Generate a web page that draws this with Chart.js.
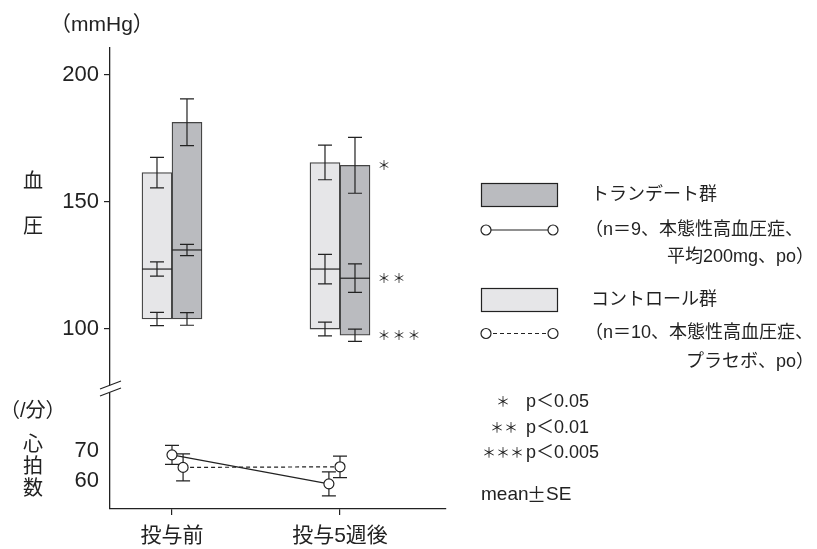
<!DOCTYPE html>
<html lang="ja">
<head>
<meta charset="utf-8">
<title>血圧・心拍数</title>
<script src="https://cdn.jsdelivr.net/npm/chart.js@4.4.1/dist/chart.umd.min.js"></script>
<style>
  html, body { margin: 0; padding: 0; background: #fff; }
  #wrap { width: 817px; height: 549px; }
</style>
</head>
<body>
<div id="wrap"><canvas id="grafico"></canvas></div>
<script>
// カテゴリ (x軸)
const categorias = ['投与前', '投与5週後'];

// 血圧 (mmHg) コントロール群: 収縮期 / 平均 / 拡張期 と SE
const ctrlSys = [161.5, 165.5];
const ctrlSysSE = [6.0, 6.8];
const ctrlMean = [123.6, 123.6];
const ctrlMeanSE = [2.8, 5.8];
const ctrlDia = [104, 100];
const ctrlDiaSE = [2.6, 2.7];

// 血圧 (mmHg) トランデート群
const tranSys = [181.3, 164.4];
const tranSysSE = [9.2, 11.0];
const tranMean = [131.1, 120.0];
const tranMeanSE = [2.2, 5.6];
const tranDia = [104, 97.6];
const tranDiaSE = [2.5, 2.4];

// 有意差マーク (トランデート群の * の数)
const sigSys = [0, 1];
const sigMean = [0, 2];
const sigDia = [0, 3];

// 心拍数 (/分)
const tranHR = [68.8, 59.1];
const tranHRSE = [3.2, 4.0];
const ctrlHR = [64.6, 64.8];
const ctrlHRSE = [4.5, 3.6];

// 目盛り
const bpTicks = [100, 150, 200];
const hrTicks = [60, 70];

// 見た目
const ink = '#222';
const darkFill = '#babbbf';
const lightFill = '#e6e6e8';
const fonte = "'Liberation Sans', 'Noto Sans CJK JP', sans-serif";
const hrShift = { tran: [0, -0.066], ctrl: [0.066, 0] }; // 丸が重ならないように少しずらす

// データセットごとの誤差などの情報
const extras = [
  { sys: ctrlSys, sysSE: ctrlSysSE, mean: ctrlMean, meanSE: ctrlMeanSE, dia: ctrlDia, diaSE: ctrlDiaSE },
  { sys: tranSys, sysSE: tranSysSE, mean: tranMean, meanSE: tranMeanSE, dia: tranDia, diaSE: tranDiaSE },
  { hrSE: tranHRSE },
  { hrSE: ctrlHRSE }
];

function errBar(ctx, x, yTop, yBot, cap) {
  ctx.beginPath();
  ctx.moveTo(x, yTop); ctx.lineTo(x, yBot);
  ctx.moveTo(x - cap, yTop); ctx.lineTo(x + cap, yTop);
  ctx.moveTo(x - cap, yBot); ctx.lineTo(x + cap, yBot);
  ctx.stroke();
}

function circle(ctx, x, y) {
  ctx.beginPath();
  ctx.arc(x, y, 5, 0, Math.PI * 2);
  ctx.fillStyle = '#fff';
  ctx.fill();
  ctx.stroke();
}

// 平均線・誤差棒
const extrasPlugin = {
  id: 'extras',
  afterDatasetDraw(chart, args) {
    const ex = extras[args.index];
    if (!ex.sys) return;
    const y = chart.scales.y, ctx = chart.ctx;
    ctx.save();
    ctx.strokeStyle = ink;
    ctx.lineWidth = 1.2;
    args.meta.data.forEach((bar, i) => {
      const half = bar.width / 2;
      const ym = y.getPixelForValue(ex.mean[i]);
      ctx.beginPath();
      ctx.moveTo(bar.x - half, ym); ctx.lineTo(bar.x + half, ym);
      ctx.stroke();
      [['sys', 'sysSE'], ['mean', 'meanSE'], ['dia', 'diaSE']].forEach(([k, s]) => {
        const v = ex[k][i], e = ex[s][i];
        errBar(ctx, bar.x, y.getPixelForValue(v + e), y.getPixelForValue(v - e), 7);
      });
    });
    ctx.restore();
  },
  beforeDatasetDraw(chart, args) {
    const ex = extras[args.index];
    if (!ex.hrSE) return;
    const y2 = chart.scales.y2, ctx = chart.ctx;
    const ds = chart.data.datasets[args.index];
    ctx.save();
    ctx.strokeStyle = ink;
    ctx.lineWidth = 1.2;
    args.meta.data.forEach((pt, i) => {
      const v = ds.data[i].y, e = ex.hrSE[i];
      errBar(ctx, pt.x, y2.getPixelForValue(v + e), y2.getPixelForValue(v - e), 7);
    });
    ctx.restore();
  }
};

// 文字・凡例・軸の切れ目
const textPlugin = {
  id: 'textos',
  afterDraw(chart) {
    const ctx = chart.ctx;
    const y = chart.scales.y;
    const x0 = chart.scales.y.right;
    ctx.save();
    ctx.fillStyle = ink;
    ctx.strokeStyle = ink;
    ctx.textBaseline = 'middle';

    // 軸の切れ目 //
    ctx.fillStyle = '#fff';
    ctx.beginPath();
    ctx.moveTo(x0 - 4, 387); ctx.lineTo(x0 + 4, 384); ctx.lineTo(x0 + 4, 391); ctx.lineTo(x0 - 4, 394);
    ctx.closePath(); ctx.fill();
    ctx.lineWidth = 1.1;
    ctx.beginPath();
    ctx.moveTo(x0 - 10, 389); ctx.lineTo(x0 + 11, 381);
    ctx.moveTo(x0 - 10, 396); ctx.lineTo(x0 + 11, 388);
    ctx.stroke();
    ctx.fillStyle = ink;

    // 軸の見出し
    ctx.font = '21px ' + fonte;
    ctx.textAlign = 'left';
    ctx.fillText('（mmHg）', 50, 25);
    ctx.font = '20px ' + fonte;
    ctx.fillText('（/分）', 0, 411);
    ctx.textAlign = 'center';
    ctx.fillText('血', 33, 182);
    ctx.fillText('圧', 33, 227);
    ctx.fillText('心', 33, 445);
    ctx.fillText('拍', 33, 467);
    ctx.fillText('数', 33, 489);

    // 有意差マーク
    const meta = chart.getDatasetMeta(1);
    ctx.font = '13px ' + fonte;
    meta.data.forEach((bar, i) => {
      [[sigSys, tranSys], [sigMean, tranMean], [sigDia, tranDia]].forEach(([sig, vals]) => {
        for (let k = 0; k < sig[i]; k++) {
          ctx.fillText('＊', bar.x + bar.width / 2 + 14 + k * 15, y.getPixelForValue(vals[i]) + 1);
        }
      });
    });

    // 凡例
    ctx.lineWidth = 1.2;
    ctx.fillStyle = darkFill;
    ctx.fillRect(481.5, 183.5, 76, 23);
    ctx.strokeRect(481.5, 183.5, 76, 23);
    ctx.fillStyle = lightFill;
    ctx.fillRect(481.5, 288.5, 76, 23);
    ctx.strokeRect(481.5, 288.5, 76, 23);

    ctx.beginPath();
    ctx.moveTo(486, 230); ctx.lineTo(553, 230);
    ctx.stroke();
    ctx.setLineDash([4, 3]);
    ctx.beginPath();
    ctx.moveTo(486, 333.5); ctx.lineTo(553, 333.5);
    ctx.stroke();
    ctx.setLineDash([]);
    circle(ctx, 486, 230); circle(ctx, 553, 230);
    circle(ctx, 486, 333.5); circle(ctx, 553, 333.5);

    ctx.fillStyle = ink;
    ctx.font = '18px ' + fonte;
    ctx.textAlign = 'left';
    ctx.fillText('トランデート群', 591, 195);
    ctx.fillText('（n＝9、本態性高血圧症、', 585, 230);
    ctx.fillText('コントロール群', 591, 300);
    ctx.fillText('（n＝10、本態性高血圧症、', 585, 333.5);
    ctx.textAlign = 'right';
    ctx.fillText('平均200mg、po）', 814, 257);
    ctx.fillText('プラセボ、po）', 814, 362);

    // p値
    ctx.font = '14px ' + fonte;
    ctx.textAlign = 'center';
    ctx.fillText('＊', 503, 402);
    ctx.fillText('＊＊', 504, 428);
    ctx.fillText('＊＊＊', 503, 453);
    ctx.font = '18px ' + fonte;
    ctx.textAlign = 'left';
    ctx.fillText('p＜0.05', 526, 402);
    ctx.fillText('p＜0.01', 526, 428);
    ctx.fillText('p＜0.005', 526, 453);
    ctx.font = '19px ' + fonte;
    ctx.fillText('mean', 481, 495);
    ctx.font = '19px "Noto Sans CJK JP", sans-serif';
    ctx.fillText('±', 481 + 46, 495);
    ctx.font = '19px ' + fonte;
    ctx.fillText('SE', 481 + 65, 495);
    ctx.restore();
  }
};

const chartData = {
  datasets: [
    {
      type: 'bar',
      label: 'コントロール群',
      data: categorias.map((c, i) => ({ x: i, y: [ctrlDia[i], ctrlSys[i]] })),
      backgroundColor: lightFill,
      borderColor: '#444',
      borderWidth: 1.3,
      borderSkipped: false,
      barThickness: 30,
      yAxisID: 'y'
    },
    {
      type: 'bar',
      label: 'トランデート群',
      data: categorias.map((c, i) => ({ x: i, y: [tranDia[i], tranSys[i]] })),
      backgroundColor: darkFill,
      borderColor: '#444',
      borderWidth: 1.3,
      borderSkipped: false,
      barThickness: 30,
      yAxisID: 'y'
    },
    {
      type: 'line',
      label: 'トランデート群 心拍数',
      data: categorias.map((c, i) => ({ x: i + hrShift.tran[i], y: tranHR[i] })),
      borderColor: ink,
      borderWidth: 1.2,
      pointRadius: 5,
      pointBackgroundColor: '#fff',
      pointBorderColor: ink,
      pointBorderWidth: 1.2,
      yAxisID: 'y2'
    },
    {
      type: 'line',
      label: 'コントロール群 心拍数',
      data: categorias.map((c, i) => ({ x: i + hrShift.ctrl[i], y: ctrlHR[i] })),
      borderColor: ink,
      borderWidth: 1.2,
      borderDash: [4, 3],
      pointRadius: 5,
      pointBackgroundColor: '#fff',
      pointBorderColor: ink,
      pointBorderWidth: 1.2,
      yAxisID: 'y2'
    }
  ]
};

const tickFont = { family: fonte, size: 22 };

const options = {
  responsive: true,
  maintainAspectRatio: false,
  animation: false,
  layout: { padding: { top: 48, right: 371, left: 0, bottom: 0 } },
  plugins: {
    legend: { display: false },
    tooltip: { enabled: false }
  },
  scales: {
    x: {
      type: 'linear',
      offset: false,
      min: -0.369,
      max: 1.631,
      afterBuildTicks: (s) => { s.ticks = categorias.map((c, i) => ({ value: i })); },
      afterFit: (s) => { s.height = 40; },
      ticks: { color: ink, font: { family: fonte, size: 21 }, padding: 9, callback: (v) => categorias[v], maxRotation: 0, autoSkip: false },
      grid: { offset: false, drawOnChartArea: false, tickLength: 6, color: ink, lineWidth: 1.2 },
      border: { display: true, color: ink, width: 1.3 }
    },
    y: {
      position: 'left',
      stack: 'v',
      stackWeight: 342,
      weight: 2,
      min: 76.2,
      max: 210.5,
      afterBuildTicks: (s) => { s.ticks = bpTicks.map(v => ({ value: v })); },
      afterFit: (s) => { s.width = 110; },
      ticks: { color: ink, font: tickFont, padding: 5 },
      grid: { drawOnChartArea: false, tickLength: 6, color: ink, lineWidth: 1.2 },
      border: { display: true, color: ink, width: 1.3 }
    },
    y2: {
      position: 'left',
      stack: 'v',
      stackWeight: 119.5,
      weight: 1,
      min: 50.7,
      max: 90.6,
      afterBuildTicks: (s) => { s.ticks = hrTicks.map(v => ({ value: v })); },
      afterFit: (s) => { s.width = 110; },
      ticks: { color: ink, font: tickFont, padding: 11 },
      grid: { drawOnChartArea: false, drawTicks: false, color: ink },
      border: { display: true, color: ink, width: 1.3 }
    }
  }
};

const grafico = new Chart(document.getElementById('grafico'), {
  type: 'bar',
  data: chartData,
  options: options,
  plugins: [extrasPlugin, textPlugin]
});
</script>
</body>
</html>
